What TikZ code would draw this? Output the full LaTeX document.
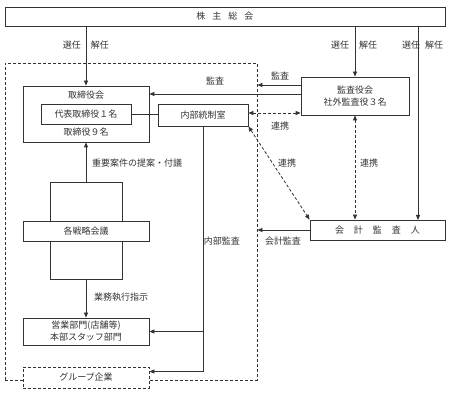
\documentclass[tikz,border=0pt]{standalone}
\usepackage{fontspec}
\setmainfont{Noto Sans CJK JP}
\usetikzlibrary{arrows.meta, positioning, calc}

\begin{document}
\begin{tikzpicture}[
    x=1pt, y=-1pt,
    every node/.style={font=\fontsize{9}{12}\selectfont, text=black!80, inner sep=0pt, align=center},
    box/.style={draw=black!80, fill=white, line width=0.8pt},
    dashbox/.style={draw=black!80, fill=white, line width=0.8pt, dash pattern=on 3pt off 2pt},
    frame/.style={draw=black!80, line width=0.8pt, dash pattern=on 3pt off 2pt},
    conn/.style={draw=black!80, line width=0.8pt},
    arr/.style={conn, -{Triangle[length=5pt, width=4pt]}},
    darr/.style={conn, dash pattern=on 3pt off 2pt, {Triangle[length=5pt, width=4pt]}-{Triangle[length=5pt, width=4pt]}}
  ]
  \useasboundingbox (0,0) rectangle (451,398);

  % frame of the company
  \node[frame, minimum width=252, minimum height=317] (frame) at (131,221.5) {};

  % boxes
  \node[box, minimum width=440, minimum height=19] (soukai) at (225,16.5)
    {株\hspace{7pt}主\hspace{7pt}総\hspace{7pt}会};
  \node[box, minimum width=126, minimum height=56] (torishimari) at (86,114) {};
  \node (torishimariT) at (86,95) {取締役会};
  \node (torishimariB) at (86,132) {取締役９名};
  \node[box, minimum width=90, minimum height=20] (daihyo) at (86,114) {代表取締役１名};
  \node[box, minimum width=90, minimum height=22] (naibu) at (203,115) {内部統制室};
  \node[box, minimum width=108, minimum height=38] (kansayaku) at (355,96) {監査役会\\社外監査役３名};
  \node[box, minimum width=135, minimum height=20] (kaikei) at (377.5,230)
    {会\hspace{10pt}計\hspace{10pt}監\hspace{10pt}査\hspace{10pt}人};
  \node[box, minimum width=72, minimum height=97] (senryakuBar) at (86,230.5) {};
  \node[box, minimum width=126, minimum height=20] (senryaku) at (86,231) {各戦略会議};
  \node[box, minimum width=126, minimum height=27] (eigyo) at (86,331.5) {営業部門(店舗等)\\本部スタッフ部門};
  \node[dashbox, minimum width=126, minimum height=21] (group) at (86,377.5) {グループ企業};

  \coordinate (kaikeiIn) at (418,220);

  % connectors
  \draw[arr] (soukai.south -| torishimari.north) -- (torishimari.north);
  \draw[arr] (soukai.south -| kansayaku.north) -- (kansayaku.north);
  \draw[arr] (soukai.south -| kaikeiIn) -- (kaikeiIn);
  \draw[arr] ([yshift=11pt]kansayaku.west) -- ([yshift=11pt]kansayaku.west -| frame.east);
  \draw[arr] ([yshift=2pt]kansayaku.west) -- ([yshift=2pt]kansayaku.west -| torishimari.east);
  \draw[conn] (daihyo.east) -- (daihyo.east -| naibu.west);
  \draw[darr] ([yshift=2pt]naibu.east) -- ([yshift=2pt]naibu.east -| kansayaku.west);
  \draw[darr] (naibu.south east) -- (kaikei.north west);
  \draw[darr] (kansayaku.south) -- (kansayaku.south |- kaikei.north);
  \draw[arr] (kaikei.west) -- (kaikei.west -| frame.east);
  \draw[arr] (senryakuBar.north) -- (torishimari.south);
  \draw[arr] (senryakuBar.south) -- (eigyo.north);
  \draw[arr] (naibu.south) |- ([yshift=6pt]group.east);
  \draw[arr] (naibu.south |- eigyo.east) -- (eigyo.east);

  % labels
  \node at (72,45) {選任};
  \node at (100,45) {解任};
  \node at (340,45) {選任};
  \node at (368,45) {解任};
  \node at (411,45) {選任};
  \node at (434,45) {解任};
  \node at (215,81) {監査};
  \node at (280,76) {監査};
  \node at (280,126) {連携};
  \node at (287,163) {連携};
  \node at (369,163) {連携};
  \node at (283,241) {会計監査};
  \node at (222,241) {内部監査};
  \node[anchor=west] at (92,163) {重要案件の提案・付議};
  \node[anchor=west] at (94,297) {業務執行指示};
\end{tikzpicture}
\end{document}
